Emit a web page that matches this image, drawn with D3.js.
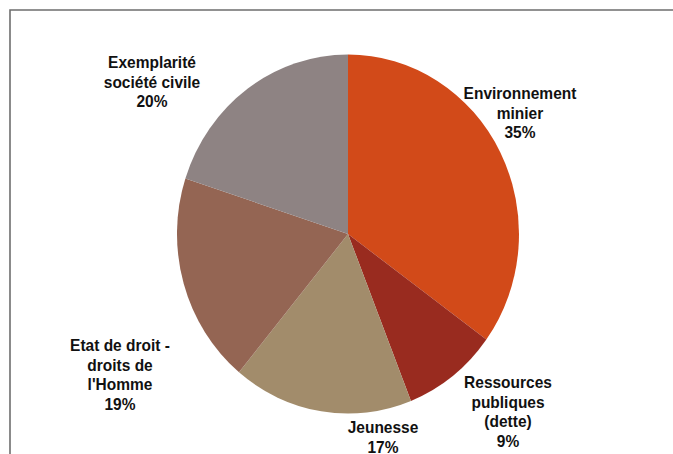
<!DOCTYPE html>
<html>
<head>
<meta charset="utf-8">
<script src="https://cdn.jsdelivr.net/npm/d3@7"></script>
<style>
  body { margin: 0; background: #fff; }
  text { font-family: "Liberation Sans", Arial, sans-serif; font-weight: bold; fill: #111; }
</style>
</head>
<body>
<script>
// Data
var categories = ["Environnement minier", "Ressources publiques (dette)", "Jeunesse", "Etat de droit - droits de l'Homme", "Exemplarité société civile"];
var shares = [35, 9, 17, 19, 20];
var labelLines = [
    ["Environnement", "minier", "35%"],
    ["Ressources", "publiques", "(dette)", "9%"],
    ["Jeunesse", "17%"],
    ["Etat de droit -", "droits de", "l'Homme", "19%"],
    ["Exemplarité", "société civile", "20%"]
];
var colors = ["#d24a19", "#992b1f", "#a28c6b", "#946553", "#8e8383"];

// label anchor (centre x, first baseline y) for each slice
var labelAnchors = [[520, 99], [508, 388], [383, 433], [120, 351], [152, 68]];

var width = 673, height = 454;
var cx = 348, cy = 234, radius = 171;
var lineGap = 19.5, stretch = 1.08;

var svg = d3.select("body").append("svg")
    .attr("width", width)
    .attr("height", height);

// Frame (top and left edges only are visible)
svg.append("path")
    .attr("d", "M10," + height + " L10,10 L" + width + ",10")
    .attr("fill", "none")
    .attr("stroke", "#6e6e6e")
    .attr("stroke-width", 1.6);

var pie = d3.pie().sort(null).value(function(d) { return d; });
var arc = d3.arc().innerRadius(0).outerRadius(radius);

var g = svg.append("g")
    .attr("transform", "translate(" + cx + "," + cy + ") scale(1,1.05)");

g.selectAll("path.slice")
    .data(pie(shares))
    .enter().append("path")
    .attr("class", "slice")
    .attr("d", arc)
    .attr("fill", function(d, i) { return colors[i]; });

// Labels, each line slightly stretched vertically like the original
categories.forEach(function(name, i) {
    labelLines[i].forEach(function(line, j) {
        svg.append("text")
            .attr("class", "label")
            .attr("text-anchor", "middle")
            .style("font-size", "15.5px")
            .attr("transform", "translate(" + labelAnchors[i][0] + "," + (labelAnchors[i][1] + j * lineGap) + ") scale(1," + stretch + ")")
            .text(line);
    });
});
</script>
</body>
</html>
